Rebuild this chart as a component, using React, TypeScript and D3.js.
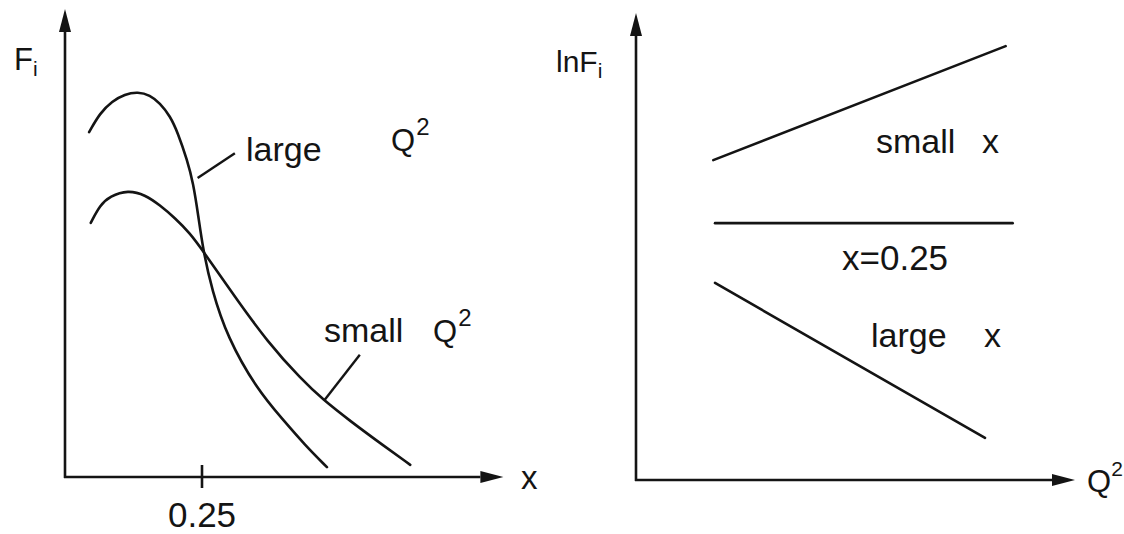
import React from 'react';
import * as d3 from 'd3';

const W = 1124;
const H = 534;

// Left panel: F_i against x for two values of Q²
const xLargeQ2 = [0.044, 0.064, 0.086, 0.109, 0.133, 0.155, 0.173, 0.192, 0.206, 0.223, 0.234, 0.243, 0.252, 0.268, 0.296, 0.350, 0.398, 0.438, 0.478];
const fLargeQ2 = [0.737, 0.778, 0.803, 0.818, 0.823, 0.816, 0.799, 0.771, 0.735, 0.677, 0.628, 0.560, 0.485, 0.400, 0.299, 0.188, 0.122, 0.068, 0.021];
const xSmallQ2 = [0.047, 0.064, 0.082, 0.115, 0.146, 0.173, 0.201, 0.228, 0.252, 0.310, 0.370, 0.431, 0.471, 0.520, 0.580, 0.630];
const fSmallQ2 = [0.543, 0.581, 0.600, 0.613, 0.603, 0.581, 0.553, 0.521, 0.483, 0.385, 0.288, 0.209, 0.165, 0.120, 0.068, 0.026];
const leftTicks = [0.25];
const leftTickLabels = ['0.25'];

// Right panel: ln F_i against Q² for three regions of x
const rightSeries = ['small', 'x=0.25', 'large'];
const q2Start = [0.176, 0.180, 0.180];
const q2End = [0.842, 0.858, 0.795];
const lnFStart = [0.685, 0.550, 0.422];
const lnFEnd = [0.929, 0.550, 0.090];

const INK = '#141414';
const FONT = '"Liberation Sans", Arial, Helvetica, sans-serif';

// left panel scales
const lx = d3.scaleLinear().domain([0, 0.8]).range([65, 503.4]);
const ly = d3.scaleLinear().domain([0, 1]).range([477, 9]);
// right panel scales
const rx = d3.scaleLinear().domain([0, 1]).range([636, 1075]);
const ry = d3.scaleLinear().domain([0, 1]).range([480, 13]);

const curve = d3
  .line<[number, number]>()
  .x((d) => lx(d[0]))
  .y((d) => ly(d[1]))
  .curve(d3.curveBasis);

const straight = d3
  .line<[number, number]>()
  .x((d) => lx(d[0]))
  .y((d) => ly(d[1]));

const seg = d3
  .line<[number, number]>()
  .x((d) => rx(d[0]))
  .y((d) => ry(d[1]));

const zip = (a: number[], b: number[]): [number, number][] => a.map((v, i) => [v, b[i]]);

function ArrowAxes({ x0, y0, xTip, yTip }: { x0: number; y0: number; xTip: number; yTip: number }) {
  const len = 23;
  const half = 6;
  return (
    <g>
      <line x1={x0} y1={y0 + 1} x2={x0} y2={yTip + len} stroke={INK} strokeWidth={2.6} />
      <line x1={x0 - 1} y1={y0} x2={xTip - len} y2={y0} stroke={INK} strokeWidth={2.6} />
      <path d={`M${x0},${yTip} L${x0 - half},${yTip + len} L${x0 + half},${yTip + len} Z`} fill={INK} />
      <path d={`M${xTip},${y0} L${xTip - len},${y0 - half} L${xTip - len},${y0 + half} Z`} fill={INK} />
    </g>
  );
}

export default function App() {
  const large = zip(xLargeQ2, fLargeQ2);
  const small = zip(xSmallQ2, fSmallQ2);
  const ox = lx(0);
  const oy = ly(0);
  const rox = rx(0);
  const roy = ry(0);

  // leader line anchors (data space)
  const largeLeader: [number, number][] = [[0.242, 0.639], [0.310, 0.692]];
  const smallLeader: [number, number][] = [[0.474, 0.165], [0.538, 0.261]];

  return (
    <svg
      width={W}
      height={H}
      viewBox={`0 0 ${W} ${H}`}
      style={{ position: 'absolute', left: 0, top: 0, background: '#fff' }}
      fontFamily={FONT}
      fill={INK}
    >
      {/* left panel */}
      <ArrowAxes x0={ox} y0={oy} xTip={lx(0.8)} yTip={ly(1)} />
      {leftTicks.map((t, i) => (
        <g key={t}>
          <line x1={lx(t)} x2={lx(t)} y1={oy - 12} y2={oy + 11} stroke={INK} strokeWidth={2.6} />
          <text x={lx(t)} y={527} fontSize={35} textAnchor="middle">
            {leftTickLabels[i]}
          </text>
        </g>
      ))}
      <path d={curve(large) ?? ''} fill="none" stroke={INK} strokeWidth={2.6} strokeLinecap="round" />
      <path d={curve(small) ?? ''} fill="none" stroke={INK} strokeWidth={2.6} strokeLinecap="round" />
      <path d={straight(largeLeader) ?? ''} fill="none" stroke={INK} strokeWidth={2.4} />
      <path d={straight(smallLeader) ?? ''} fill="none" stroke={INK} strokeWidth={2.4} />

      <text x={14} y={70} fontSize={31}>
        F<tspan fontSize={21} dy={6}>i</tspan>
      </text>
      <text x={521} y={489} fontSize={33}>x</text>
      <text x={246} y={161} fontSize={34}>large</text>
      <text x={391} y={151} fontSize={31}>
        Q<tspan fontSize={24} dy={-16} dx={1}>2</tspan>
      </text>
      <text x={324} y={342} fontSize={34}>small</text>
      <text x={433} y={342} fontSize={31}>
        Q<tspan fontSize={24} dy={-16} dx={1}>2</tspan>
      </text>

      {/* right panel */}
      <ArrowAxes x0={rox} y0={roy} xTip={rx(1)} yTip={ry(1)} />
      {rightSeries.map((name, i) => (
        <path
          key={name}
          d={seg([[q2Start[i], lnFStart[i]], [q2End[i], lnFEnd[i]]]) ?? ''}
          fill="none"
          stroke={INK}
          strokeWidth={2.6}
          strokeLinecap="round"
        />
      ))}
      <text x={556} y={72} fontSize={30}>
        lnF<tspan fontSize={21} dy={6}>i</tspan>
      </text>
      <text x={876} y={153} fontSize={34}>small</text>
      <text x={982} y={153} fontSize={34}>x</text>
      <text x={842} y={270} fontSize={35}>x=0.25</text>
      <text x={871} y={347} fontSize={34}>large</text>
      <text x={984} y={347} fontSize={34}>x</text>
      <text x={1087} y={492} fontSize={31}>
        Q<tspan fontSize={21} dy={-16}>2</tspan>
      </text>
    </svg>
  );
}
